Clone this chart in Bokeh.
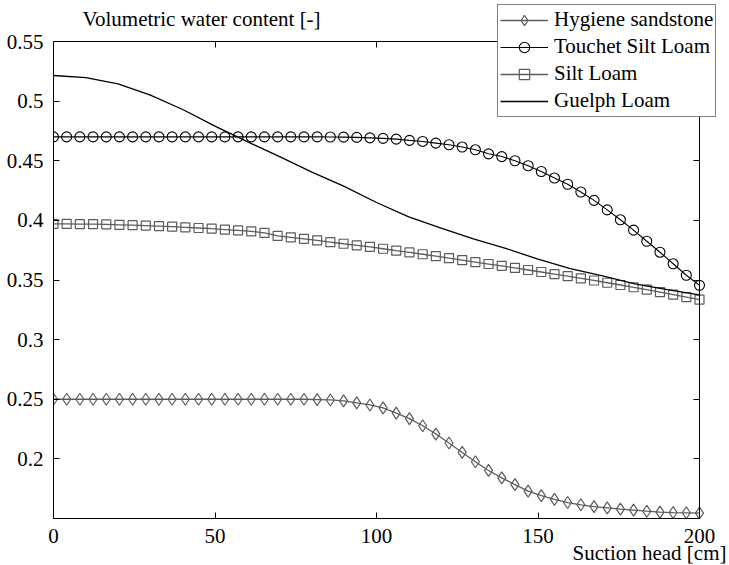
from bokeh.plotting import figure
from bokeh.models import Range1d, FixedTicker, Legend, LegendItem, Title, Label, LinearAxis
from bokeh.embed import file_html
from bokeh.resources import INLINE

# ---- data ----
suction_head = [0, 4.08, 8.16, 12.24, 16.33, 20.41, 24.49, 28.57, 32.65, 36.73,
                40.82, 44.90, 48.98, 53.06, 57.14, 61.22, 65.31, 69.39, 73.47, 77.55,
                81.63, 85.71, 89.80, 93.88, 97.96, 102.04, 106.12, 110.20, 114.29, 118.37,
                122.45, 126.53, 130.61, 134.69, 138.78, 142.86, 146.94, 151.02, 155.10, 159.18,
                163.27, 167.35, 171.43, 175.51, 179.59, 183.67, 187.76, 191.84, 195.92, 200]

hygiene_sandstone = [0.25, 0.25, 0.25, 0.25, 0.25, 0.25, 0.25, 0.25, 0.25, 0.25,
                     0.25, 0.25, 0.25, 0.25, 0.25, 0.25, 0.25, 0.25, 0.25, 0.25,
                     0.2497, 0.2494, 0.2486, 0.2470, 0.2452, 0.2428, 0.2383, 0.2338, 0.2278, 0.2208,
                     0.2133, 0.2054, 0.1976, 0.1903, 0.1841, 0.1784, 0.1730, 0.1692, 0.1660, 0.1634,
                     0.1615, 0.1600, 0.1589, 0.1578, 0.1570, 0.1561, 0.1554, 0.1550, 0.1548, 0.1545]

touchet_silt_loam = [0.470, 0.470, 0.470, 0.470, 0.470, 0.470, 0.470, 0.470, 0.470, 0.470,
                     0.470, 0.470, 0.470, 0.470, 0.470, 0.470, 0.470, 0.470, 0.470, 0.470,
                     0.470, 0.4699, 0.4698, 0.4696, 0.4692, 0.4688, 0.4681, 0.4671, 0.4662, 0.4648,
                     0.4634, 0.4615, 0.4592, 0.4558, 0.4535, 0.4500, 0.4458, 0.4410, 0.4355, 0.4303,
                     0.4238, 0.4168, 0.4088, 0.4005, 0.3918, 0.3825, 0.3733, 0.3636, 0.3540, 0.3455]

silt_loam = [0.3970, 0.3970, 0.3969, 0.3968, 0.3966, 0.3963, 0.3960, 0.3956, 0.3952, 0.3947,
             0.3942, 0.3936, 0.3930, 0.3923, 0.3916, 0.3908, 0.3895, 0.3870, 0.3858, 0.3845,
             0.3832, 0.3818, 0.3804, 0.3791, 0.3777, 0.3762, 0.3746, 0.3731, 0.3716, 0.3700,
             0.3683, 0.3667, 0.3650, 0.3634, 0.3618, 0.3601, 0.3584, 0.3567, 0.3550, 0.3532,
             0.3514, 0.3496, 0.3477, 0.3458, 0.3439, 0.3419, 0.3399, 0.3378, 0.3357, 0.3336]

guelph_head = [0, 10, 20, 30, 40, 50, 60, 70, 80, 90, 100,
               110, 120, 130, 140, 150, 160, 170, 180, 190, 200]
guelph_loam = [0.5215, 0.5197, 0.5145, 0.5050, 0.4930, 0.4790, 0.4660, 0.4535, 0.4405, 0.4285, 0.4150,
               0.4030, 0.3935, 0.3845, 0.3765, 0.3675, 0.3595, 0.3535, 0.3468, 0.3420, 0.3375]

x_ticks = [0, 50, 100, 150, 200]
y_ticks = [0.2, 0.25, 0.3, 0.35, 0.4, 0.45, 0.5, 0.55]
y_tick_labels = ["0.2", "0.25", "0.3", "0.35", "0.4", "0.45", "0.5", "0.55"]
x_min, x_max = 0, 200
y_min, y_max = 0.15, 0.55

series_names = ["Hygiene sandstone", "Touchet Silt Loam", "Silt Loam", "Guelph Loam"]
y_label_text = "Volumetric water content [-]"
x_label_text = "Suction head [cm]"

# ---- layout (pixels) ----
W, H = 729, 565
BOX_L, BOX_R, BOX_T, BOX_B = 53, 699, 41, 518     # axes box
FRAME_T, FRAME_R = 4, 721                          # frame extends so the legend is inside it
FONT = "Liberation Serif"
FS = "21px"
GRAY = "#5c5c5c"

px_x = (x_max - x_min) / (BOX_R - BOX_L)
px_y = (y_max - y_min) / (BOX_B - BOX_T)
x_end = x_max + (FRAME_R - BOX_R) * px_x
y_end = y_max + (BOX_T - FRAME_T) * px_y

p = figure(width=W, height=H, output_backend="svg", toolbar_location=None,
           x_range=Range1d(x_min, x_end), y_range=Range1d(y_min, y_end),
           min_border_left=BOX_L, min_border_right=W - FRAME_R,
           min_border_top=FRAME_T, min_border_bottom=H - BOX_B)
p.background_fill_color = "white"
p.border_fill_color = "white"
p.outline_line_color = None
p.xgrid.visible = False
p.ygrid.visible = False

def style_axis(ax, labels=True):
    ax.axis_line_color = "black"
    ax.axis_line_width = 1
    ax.major_tick_in = 6
    ax.major_tick_out = 0
    ax.minor_tick_line_color = None
    ax.major_tick_line_color = "black"
    ax.major_label_text_font = FONT
    ax.major_label_text_font_size = FS
    ax.major_label_text_color = "black"
    if not labels:
        ax.major_label_text_alpha = 0
        ax.major_label_text_font_size = "1px"
        ax.major_label_standoff = 0

xa = p.xaxis[0]
style_axis(xa)
xa.ticker = FixedTicker(ticks=x_ticks)
xa.bounds = (x_min, x_max)
xa.major_label_standoff = 10

ya = p.yaxis[0]
style_axis(ya)
ya.ticker = FixedTicker(ticks=y_ticks)
ya.bounds = (y_min, y_max)
ya.major_label_overrides = {t: s for t, s in zip(y_ticks, y_tick_labels)}
ya.major_label_standoff = 10

top_ax = LinearAxis(ticker=FixedTicker(ticks=x_ticks), bounds=(x_min, x_max), fixed_location=y_max)
style_axis(top_ax, labels=False)
p.add_layout(top_ax, "above")
right_ax = LinearAxis(ticker=FixedTicker(ticks=y_ticks), bounds=(y_min, y_max), fixed_location=x_max)
style_axis(right_ax, labels=False)
p.add_layout(right_ax, "right")

# ---- series ----
r_h_line = p.line(suction_head, hygiene_sandstone, line_color=GRAY, line_width=1.3)
r_h_mark = p.scatter(suction_head, hygiene_sandstone, marker="diamond", size=12,
                     line_color=GRAY, line_width=1.2, fill_color=None)
r_t_line = p.line(suction_head, touchet_silt_loam, line_color="black", line_width=1.1)
r_t_mark = p.scatter(suction_head, touchet_silt_loam, marker="circle", size=10,
                     line_color="black", line_width=1.1, fill_color=None)
r_s_line = p.line(suction_head, silt_loam, line_color=GRAY, line_width=1.3)
r_s_mark = p.scatter(suction_head, silt_loam, marker="square", size=9,
                     line_color=GRAY, line_width=1.2, fill_color=None)
r_g_line = p.line(guelph_head, guelph_loam, line_color="black", line_width=1.3)

LEG_L, LEG_T, LEG_H = 497, 5.5, 111
legend = Legend(items=[
    LegendItem(label=series_names[0], renderers=[r_h_line, r_h_mark]),
    LegendItem(label=series_names[1], renderers=[r_t_line, r_t_mark]),
    LegendItem(label=series_names[2], renderers=[r_s_line, r_s_mark]),
    LegendItem(label=series_names[3], renderers=[r_g_line]),
], location=(LEG_L - BOX_L, BOX_B - LEG_T - LEG_H))
legend.label_text_font = FONT
legend.label_text_font_size = FS
legend.label_text_color = "black"
legend.glyph_width = 48
legend.glyph_height = 26
legend.label_height = 26
legend.label_standoff = 6
legend.spacing = 1
legend.padding = 2
legend.margin = 0
legend.border_line_color = "black"
legend.border_line_width = 1.3
legend.background_fill_color = "white"
legend.background_fill_alpha = 1
p.add_layout(legend, "center")

# ---- axis titles ----
p.add_layout(Label(x=x_min, y=y_max, x_offset=29, y_offset=23, text=y_label_text,
                   text_font=FONT, text_font_size=FS, text_color="black",
                   text_align="left", text_baseline="alphabetic"))
p.add_layout(Title(text=x_label_text, align="right", offset=-(W - 3 - FRAME_R), vertical_align="top",
                   standoff=-10, text_font=FONT, text_font_size=FS, text_font_style="normal",
                   text_color="black"), "below")

open("out.html", "w").write(file_html(p, INLINE))
